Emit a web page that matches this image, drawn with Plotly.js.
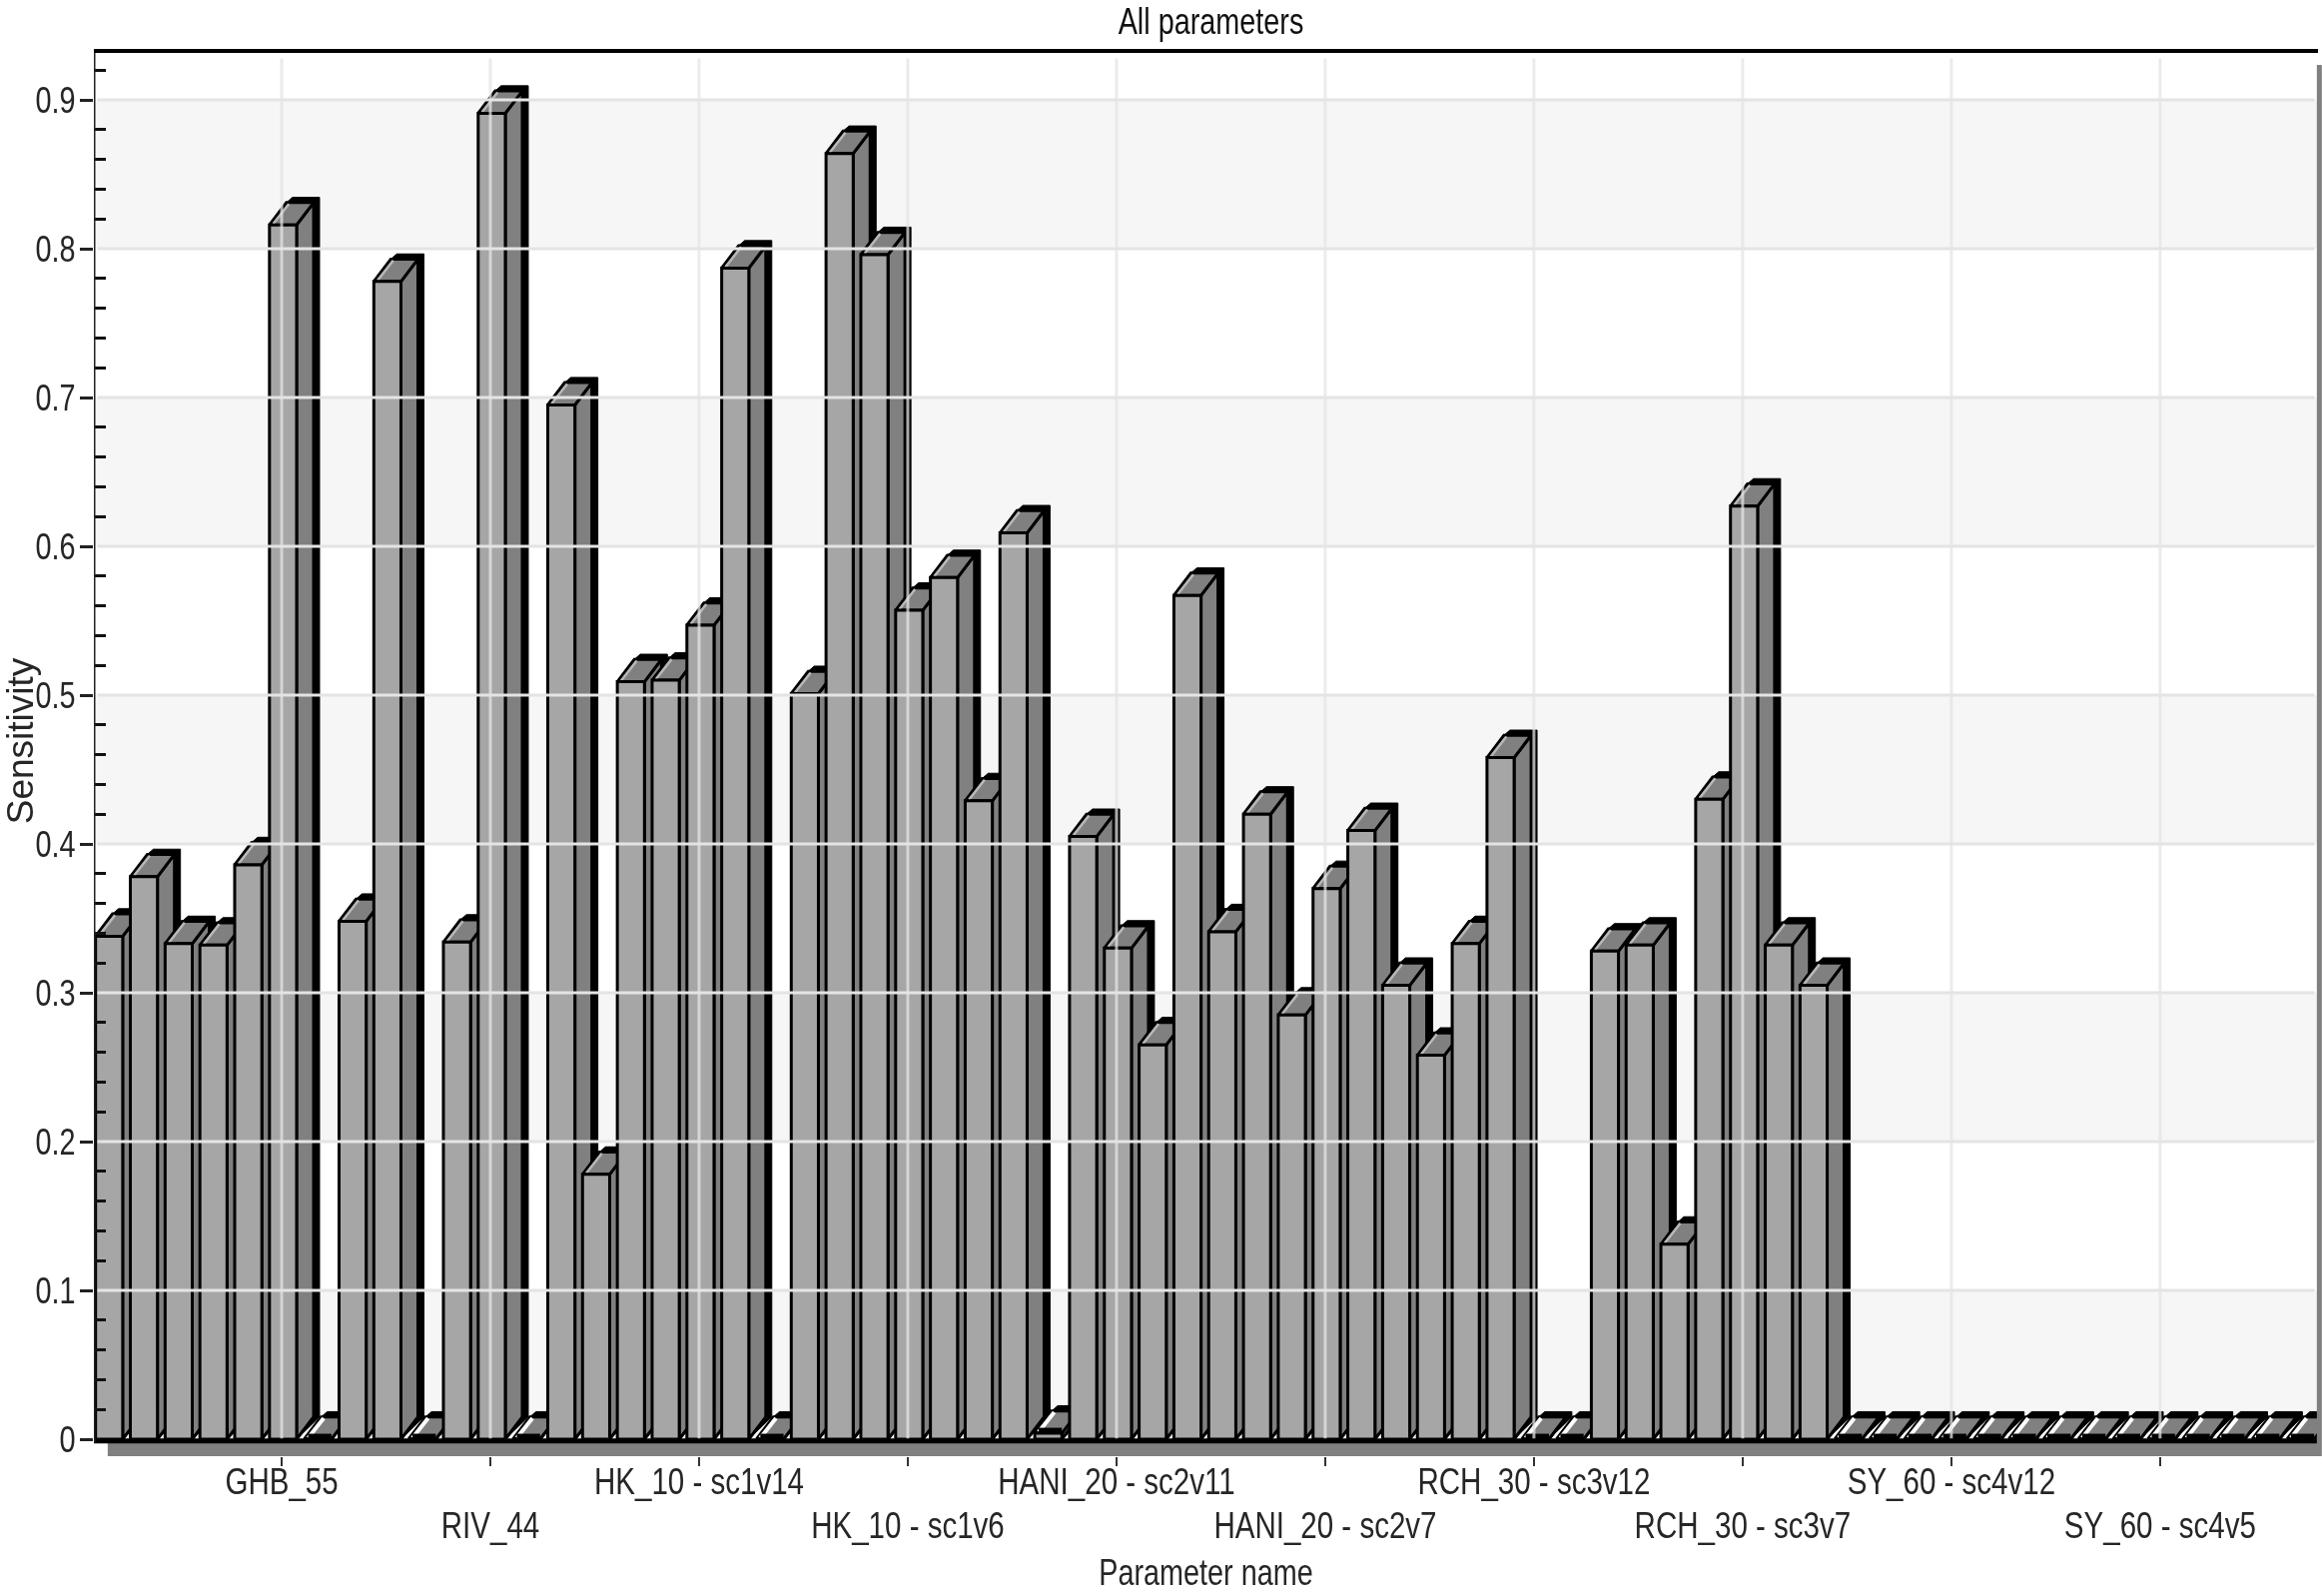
<!DOCTYPE html>
<html>
<head>
<meta charset="utf-8">
<script src="https://cdn.plot.ly/plotly-3.0.1.min.js"></script>
<style>html,body{margin:0;padding:0;background:#fff;} #chart{filter:blur(0.6px);}</style>
</head>
<body>
<div id="chart" style="width:2325px;height:1598px;"></div>
<script>
// Sensitivity of each parameter, in axis order
const sensitivity = [
  0.338,0.378,0.333,0.332,0.386,0.816,0,0.348,0.778,0,0.334,0.891,0,0.695,0.178,0.509,
  0.510,0.547,0.787,0,0.501,0.864,0.796,0.557,0.579,0.429,0.609,0.004,0.405,0.330,0.265,0.567,
  0.341,0.420,0.285,0.370,0.409,0.305,0.258,0.333,0.458,0,0,0.328,0.332,0.131,0.430,0.627,
  0.332,0.305,0,0,0,0,0,0,0,0,0,0,0,0,0,0
];
const labelledBars = [5,11,17,23,29,35,41,47,53,59];
const labelNames = ["GHB_55","RIV_44","HK_10 - sc1v14","HK_10 - sc1v6","HANI_20 - sc2v11",
  "HANI_20 - sc2v7","RCH_30 - sc3v12","RCH_30 - sc3v7","SY_60 - sc4v12","SY_60 - sc4v5"];
const yTicks = [0,0.1,0.2,0.3,0.4,0.5,0.6,0.7,0.8,0.9];
const yMinorTicks = [0.02,0.04,0.06,0.08,0.12,0.14,0.16,0.18,0.22,0.24,0.26,0.28,0.32,0.34,0.36,0.38,
  0.42,0.44,0.46,0.48,0.52,0.54,0.56,0.58,0.62,0.64,0.66,0.68,0.72,0.74,0.76,0.78,0.82,0.84,0.86,0.88,0.92];
const bandStarts = [0,0.2,0.4,0.6,0.8];

const FONT = '"Liberation Sans",Arial,sans-serif';
const INK = '#262626';
const X0 = -0.398, X1 = 63.54, Y0 = -0.0114, Y1 = 0.9329;
const L = -0.35, R = 0.43, DX = 0.488, DY = 0.015, SX = 0.172, SY = 0.0035, HI = 0.11;

const traces = [];
function poly(xs, ys, fill, lineW) {
  traces.push({type:'scatter', mode:'lines', x:xs.concat(xs[0]), y:ys.concat(ys[0]),
    fill:'toself', fillcolor:fill, line:{color:'#000', width:lineW},
    hoverinfo:'skip', showlegend:false});
}
sensitivity.forEach((v,i)=>{
  const a=i+L, b=i+R;
  // black drop shadow
  poly([b,b+DX+SX,b+DX+SX,a+DX+SX,a+DX,b],[0,DY,v+DY+SY,v+DY+SY,v+DY,Math.max(v,0)],'#000',1);
  // side face
  poly([b,b+DX,b+DX,b],[0,DY,v+DY,v],'#808080',3);
  // top face
  poly([a,b,b+DX,a+DX],[v,v,v+DY,v+DY],'#808080',3);
  // light edge of the top face
  traces.push({type:'scatter',mode:'lines',x:[a+HI,a+HI+DX*0.92],y:[v+0.0008,v+DY*0.94],
    line:{color:v<0.01?'#fff':'#b8b8b8',width:v<0.01?4:2.5},hoverinfo:'skip',showlegend:false});
  // front face
  poly([a,b,b,a],[0,0,v,v],'#a6a6a6',3);
  // a bar with no height keeps only a heavy dark front edge
  if(v<0.01) traces.push({type:'scatter',mode:'lines',x:[a+HI,b],y:[v+0.002,v+0.002],
    line:{color:'#000',width:5},hoverinfo:'skip',showlegend:false});
});

const shapes = [];
bandStarts.forEach(s=>shapes.push({type:'rect',layer:'below',xref:'x',yref:'y',x0:X0,x1:X1,y0:s,y1:s+0.1,
  fillcolor:'#f6f6f6',line:{width:0}}));
// floor band under the axis
shapes.push({type:'rect',layer:'below',xref:'x',yref:'y',x0:0,x1:X1,y0:Y0,y1:0,fillcolor:'#808080',line:{width:0}});
// grid drawn above the bars
yTicks.slice(1).forEach(t=>shapes.push({type:'line',layer:'above',xref:'x',yref:'y',x0:X0+0.1,x1:X1-0.1,y0:t,y1:t,
  line:{color:'#e4e4e4',width:3}}));
labelledBars.forEach(t=>shapes.push({type:'line',layer:'above',xref:'x',yref:'y',x0:t,x1:t,y0:0,y1:Y1-0.005,
  line:{color:'rgba(228,228,228,0.75)',width:3}}));
// axis base line, left line, top frame, right edge
shapes.push({type:'line',layer:'above',xref:'x',yref:'y',x0:X0,x1:X1,y0:-0.0012,y1:-0.0012,line:{color:'#000',width:5}});
shapes.push({type:'line',layer:'above',xref:'x',yref:'y',x0:X0,x1:X0,y0:-0.0025,y1:Y1,line:{color:'#222',width:3}});
shapes.push({type:'line',layer:'above',xref:'paper',yref:'paper',x0:0,x1:1,y0:1,y1:1,line:{color:'#000',width:4}});
shapes.push({type:'line',layer:'above',xref:'paper',yref:'paper',x0:1.0006,x1:1.0006,y0:0,y1:0.99,line:{color:'#808080',width:5}});

const layout = {
  width:2325, height:1598,
  margin:{l:94,r:4,t:51,b:140,pad:0},
  paper_bgcolor:'#fff', plot_bgcolor:'#fff',
  showlegend:false,
  font:{family:FONT,size:36,color:INK},
  title:{text:'All parameters',font:{family:FONT,size:36,color:'#111'},x:0.5215,xanchor:'center',y:0.9885,yanchor:'middle',yref:'container'},
  xaxis:{range:[X0,X1],tickmode:'array',tickvals:labelledBars,tickangle:0,
    ticktext:labelNames.map((n,i)=>i%2?'<br>'+n:n),
    ticks:'outside',ticklen:9,tickwidth:2,tickcolor:'#333',showgrid:false,zeroline:false,showline:false,
    tickfont:{family:FONT,size:36,color:INK},
    title:{text:'Parameter name',font:{family:FONT,size:36,color:INK},standoff:6},automargin:false},
  yaxis:{range:[Y0,Y1],tickmode:'array',tickvals:yTicks,ticktext:yTicks.map(String),
    ticks:'outside',ticklen:13,tickwidth:3,tickcolor:'#222',
    minor:{tickmode:'array',tickvals:yMinorTicks,ticks:'inside',ticklen:12,tickwidth:3,tickcolor:'#111',showgrid:false},
    showline:false,showgrid:false,zeroline:false,layer:'above traces',
    tickfont:{family:FONT,size:37,color:INK},
    title:{text:'Sensitivity',font:{family:FONT,size:37,color:INK},standoff:8},automargin:false},
  shapes:shapes
};
function squeeze(el,f){
  const n=el.getComputedTextLength();
  if(n>0){el.setAttribute('textLength',(n*f).toFixed(1));el.setAttribute('lengthAdjust','spacingAndGlyphs');}
}
Plotly.newPlot('chart',traces,layout,{displayModeBar:false,responsive:false}).then(gd=>{
  const root=gd;
  root.querySelectorAll('.ytick text').forEach(t=>{
    squeeze(t,0.78);
    t.setAttribute('x',parseFloat(t.getAttribute('x'))+3);
  });
  root.querySelectorAll('.xtick text').forEach(t=>{
    const lines=t.querySelectorAll('tspan.line');
    if(lines.length){
      lines.forEach(l=>{squeeze(l,0.82);l.removeAttribute('dy');l.setAttribute('y',1540);});
    } else {
      squeeze(t,0.82);
      t.setAttribute('y',1496);
    }
  });
  root.querySelectorAll('.gtitle,.xtitle').forEach(t=>squeeze(t,0.8));
  const gt=root.querySelector('.gtitle');
  if(gt) gt.setAttribute('y',21);
  const yt=root.querySelector('.ytitle');
  if(yt){const x=-9,y=742;yt.setAttribute('x',x);yt.setAttribute('y',y);yt.setAttribute('transform','rotate(-90,'+x+','+y+')');yt.setAttribute('dominant-baseline','middle');}
  const xt=root.querySelector('.xtitle');
  if(xt) xt.setAttribute('y',1594);
});
</script>
</body>
</html>
